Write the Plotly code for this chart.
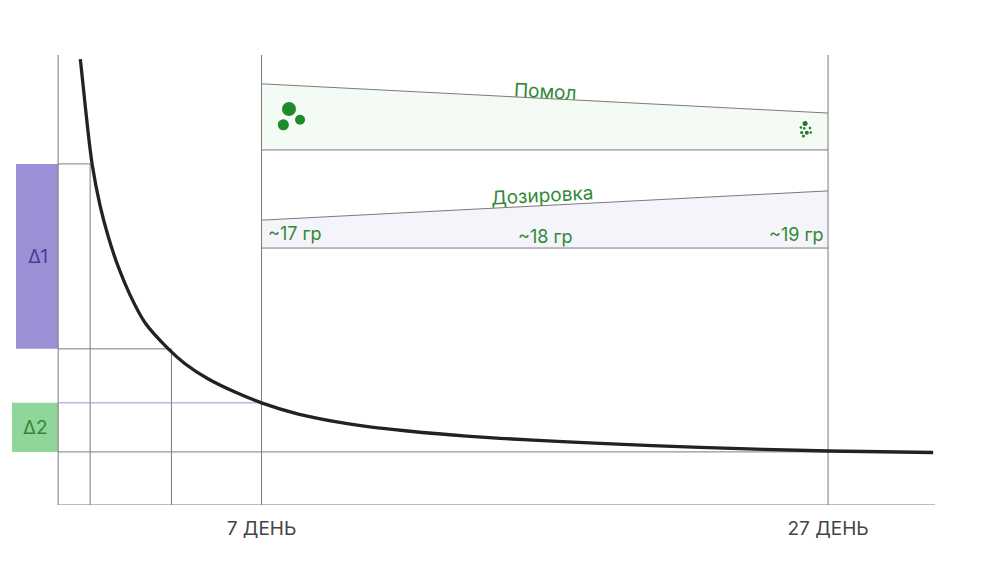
import plotly.graph_objects as go

FONT = "Inter"
GREEN = "#2f8a35"
LINE = "#7a7a7a"

# days / level (0-100)
curve_x = [0.603, 0.709, 0.864, 1.016, 1.298, 1.591, 1.944, 2.357, 2.887, 3.71, 4.299, 5.122, 6.064, 7,
           8.3, 9.71, 10.89, 12.07, 14.24, 16.59, 18.95, 22.48, 27, 30.71]
curve_y = [99.1, 92.8, 83.6, 75.9, 66.6, 59.6, 52.9, 46.7, 40.5, 34.7, 31.4, 28.0, 25.1, 22.7,
           20.2, 18.4, 17.3, 16.5, 15.3, 14.4, 13.7, 12.8, 12.0, 11.67]

tick_vals = [7, 27]
tick_text = ["7 ДЕНЬ", "27 ДЕНЬ"]

grind_x = [7, 27, 27, 7]
grind_y = [93.6, 87.1, 78.9, 78.9]
dose_x = [7, 27, 27, 7]
dose_y = [63.3, 69.8, 57.1, 57.1]

delta1_x = [-1.667, -0.18, -0.18, -1.667]
delta1_y = [75.8, 75.8, 34.7, 34.7]
delta2_x = [-1.81, -0.18, -0.18, -1.81]
delta2_y = [22.7, 22.7, 11.8, 11.8]

grid_segments = [
    ([-0.18, -0.18], [0, 100]),
    ([0.95, 0.95], [0, 75.8]),
    ([3.82, 3.82], [0, 34.7]),
    ([7, 7], [0, 100]),
    ([27, 27], [0, 100]),
    ([-0.18, 30.78], [0, 0]),
    ([-0.18, 0.95], [75.8, 75.8]),
    ([-0.18, 3.82], [34.7, 34.7]),
    ([-0.18, 27], [11.8, 11.8]),
    ([7, 27], [78.9, 78.9]),
    ([7, 27], [57.1, 57.1]),
    ([7, 27], [93.6, 87.1]),
    ([7, 27], [63.3, 69.8]),
]
delta2_line_x = [-0.18, 7]
delta2_line_y = [22.7, 22.7]

coarse_x = [7.97, 7.77, 8.36]
coarse_y = [88.0, 84.5, 85.6]
coarse_s = [14, 11, 10]
fine_x = [26.19, 26.04, 26.36, 26.16, 26.07, 26.25, 26.39, 26.13]
fine_y = [84.8, 83.9, 83.8, 83.7, 82.8, 82.7, 82.8, 82.0]
fine_s = [5, 2.5, 2.5, 2.5, 3, 4, 2.5, 3]

labels = [
    ("Δ1", -0.9, 55.3, 0, 19, "#453f96"),
    ("Δ2", -0.98, 17.2, 0, 19, GREEN),
    ("Помол", 17.0, 92.0, 3, 19, GREEN),
    ("Дозировка", 16.9, 68.8, -3, 19, GREEN),
    ("~17 гр", 8.17, 60.4, 0, 18, GREEN),
    ("~18 гр", 17.03, 59.6, 0, 18, GREEN),
    ("~19 гр", 25.87, 60.2, 0, 18, GREEN),
]

fig = go.Figure()


def poly(x, y, color):
    fig.add_trace(go.Scatter(x=x, y=y, fill="toself", fillcolor=color, mode="none",
                             hoverinfo="skip", showlegend=False))


poly(grind_x, grind_y, "#f4faf4")
poly(dose_x, dose_y, "#f5f4fb")
poly(delta1_x, delta1_y, "#9b90d6")
poly(delta2_x, delta2_y, "#90d59a")

for gx, gy in grid_segments:
    fig.add_trace(go.Scatter(x=gx, y=gy, mode="lines", line=dict(color=LINE, width=1),
                             hoverinfo="skip", showlegend=False))
fig.add_trace(go.Scatter(x=delta2_line_x, y=delta2_line_y, mode="lines",
                         line=dict(color="#9b90d6", width=1), hoverinfo="skip", showlegend=False))

fig.add_trace(go.Scatter(x=curve_x, y=curve_y, mode="lines",
                         line=dict(color="#222222", width=3.3, shape="spline", smoothing=0.7),
                         hoverinfo="skip", showlegend=False))

fig.add_trace(go.Scatter(x=coarse_x, y=coarse_y, mode="markers",
                         marker=dict(color="#1f8a2a", size=coarse_s, opacity=1, line=dict(width=0)),
                         hoverinfo="skip", showlegend=False))
fig.add_trace(go.Scatter(x=fine_x, y=fine_y, mode="markers",
                         marker=dict(color="#1f7a2a", size=fine_s, opacity=1, line=dict(width=0)),
                         hoverinfo="skip", showlegend=False))

for text, x, y, angle, size, color in labels:
    fig.add_annotation(x=x, y=y, text=text, textangle=angle, showarrow=False,
                       font=dict(family=FONT, size=size, color=color))

fig.update_layout(
    width=992, height=554,
    margin=dict(l=0, r=0, t=47, b=57),
    paper_bgcolor="white", plot_bgcolor="white",
    showlegend=False,
    xaxis=dict(range=[-1.950, 33.07], showgrid=False, zeroline=False, showline=False,
               tickmode="array", tickvals=tick_vals, ticktext=tick_text,
               ticks="outside", ticklen=6, tickcolor="rgba(0,0,0,0)",
               tickfont=dict(family=FONT, size=19, color="#444444")),
    yaxis=dict(range=[0, 100], visible=False),
)

fig.write_html("out.html")
